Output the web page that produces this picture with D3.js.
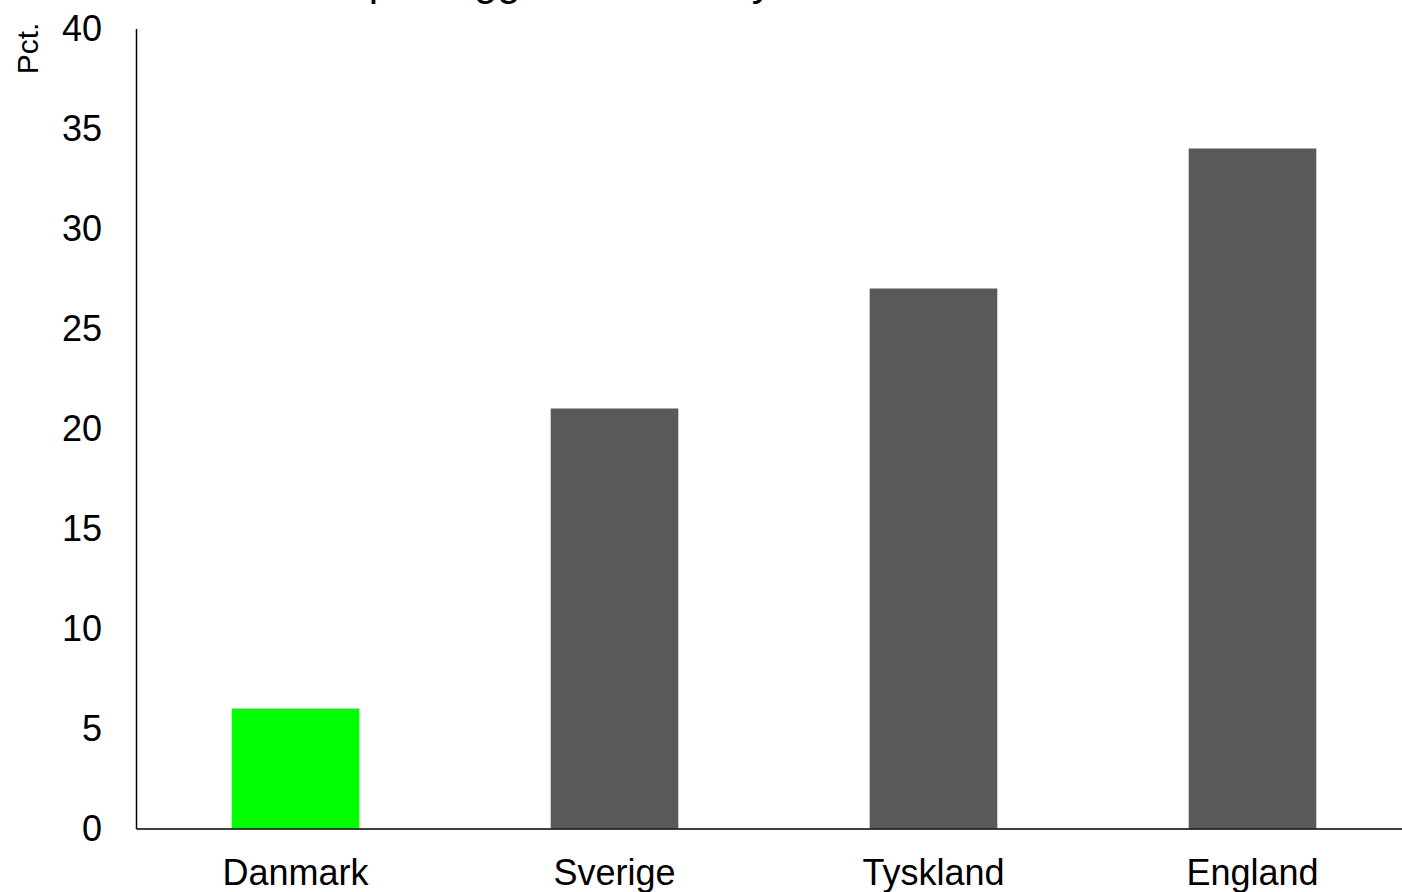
<!DOCTYPE html>
<html>
<head>
<meta charset="utf-8">
<script src="https://cdn.jsdelivr.net/npm/d3@7"></script>
<style>
  html, body { margin: 0; padding: 0; background: #fff; overflow: hidden; }
  svg { display: block; font-family: "Liberation Sans", Arial, sans-serif; }
</style>
</head>
<body>
<svg id="chart" width="1402" height="892"></svg>
<script>
const categories = ["Danmark", "Sverige", "Tyskland", "England"];
const values = [6, 21, 27, 34];
const barColors = ["#00ff00", "#595959", "#595959", "#595959"];
const yTicks = [0, 5, 10, 15, 20, 25, 30, 35, 40];
const titleText = "Andel der har på lægget til andre nye huse";
const yLabel = "Pct.";

const svg = d3.select("#chart");
const plotLeft = 136, plotRight = 1412, plotTop = 28.5, plotBottom = 828.5;

const x = d3.scaleBand().domain(categories).range([plotLeft, plotRight]).paddingInner(0.6).paddingOuter(0.3);
const y = d3.scaleLinear().domain([0, 40]).range([plotBottom, plotTop]);

// title (mostly above the visible area, as in the reference)
svg.append("text")
  .attr("x", 105).attr("y", -5)
  .attr("font-size", 42).attr("fill", "#000")
  .text(titleText);

// bars
svg.append("g").selectAll("rect").data(categories).join("rect")
  .attr("x", d => x(d))
  .attr("width", x.bandwidth())
  .attr("y", (d, i) => y(values[i]))
  .attr("height", (d, i) => y(0) - y(values[i]))
  .attr("fill", (d, i) => barColors[i]);

// y axis
const yAxis = d3.axisLeft(y).tickValues(yTicks).tickSize(0).tickPadding(34);
const gy = svg.append("g").attr("transform", `translate(${plotLeft},0)`).call(yAxis);
gy.select(".domain").attr("stroke", "#000").attr("stroke-width", 1.5);
gy.selectAll("text").attr("font-size", 36).attr("fill", "#000")
  .attr("font-family", "Liberation Sans, Arial, sans-serif");

// x axis
const xAxis = d3.axisBottom(x).tickSize(0).tickPadding(31);
const gx = svg.append("g").attr("transform", `translate(0,${plotBottom})`).call(xAxis);
gx.select(".domain").attr("stroke", "#000").attr("stroke-width", 1.5);
gx.selectAll("text").attr("font-size", 36).attr("fill", "#000")
  .attr("font-family", "Liberation Sans, Arial, sans-serif");

// y label
svg.append("text")
  .attr("transform", "translate(38,48.5) rotate(-90)")
  .attr("text-anchor", "middle")
  .attr("font-size", 30).attr("fill", "#000")
  .text(yLabel);
</script>
</body>
</html>
